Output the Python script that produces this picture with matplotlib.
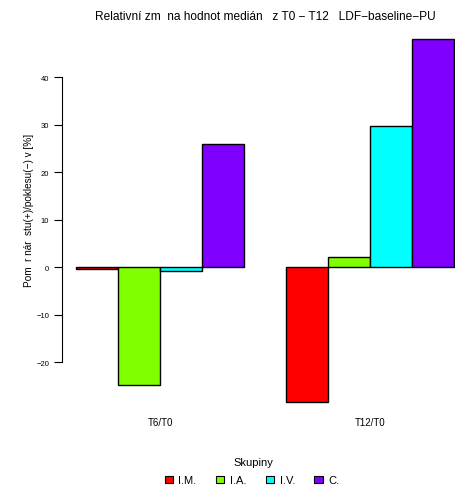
import matplotlib
matplotlib.use("Agg")
import matplotlib.pyplot as plt
from matplotlib.patches import Patch
import numpy as np

# relative change of medians, LDF-baseline-PU
periods = ["T6/T0", "T12/T0"]
groups = ["I.M.", "I.A.", "I.V.", "C."]
colors = ["#FF0000", "#80FF00", "#00FFFF", "#8000FF"]
values = {
    "I.M.": [-0.3, -28.4],
    "I.A.": [-24.7, 2.2],
    "I.V.": [-0.7, 29.8],
    "C.": [26.0, 48.0],
}
yticks = [-20, -10, 0, 10, 20, 30, 40]

W, H = 455, 489
plt.rcParams["font.family"] = ["Liberation Sans", "DejaVu Sans"]
fig = plt.figure(figsize=(W / 100, H / 100), dpi=100)

# axes placed in pixel coords (R barplot layout)
left, right, top, bottom = 61.7, 455, 25.6, 418
ax = fig.add_axes([left / W, 1 - bottom / H, (right - left) / W, (bottom - top) / H])

# R style positions: one bar = 1 unit, one unit of space before each group
for gi, period in enumerate(periods):
    start = 1 + gi * 5
    for k, g in enumerate(groups):
        ax.bar(start + k, values[g][gi], width=1, align="edge",
               color=colors[k], edgecolor="black", linewidth=1.0)

ax.set_xlim(1 - (76 - left) / 42, 1 + (455 - 76) / 42)
ax.set_ylim(-31.5, 51.1)

ax.set_yticks(yticks)
ax.set_yticklabels([str(t) if t >= 0 else "\u2212" + str(-t) for t in yticks], fontsize=5.5)
ax.tick_params(axis="y", length=6, width=0.8, pad=3, colors="black")
ax.spines["left"].set_bounds(-20, 40)
ax.spines["left"].set_linewidth(0.8)
for s in ["top", "right", "bottom"]:
    ax.spines[s].set_visible(False)

ax.set_xticks([3, 8])
ax.set_xticklabels(periods, fontsize=7)
ax.tick_params(axis="x", length=0, pad=0)

fig.text(265 / W, 1 - 17 / H,
         "Relativní zm  na hodnot medián   z T0 \u2212 T12   LDF\u2212baseline\u2212PU",
         ha="center", va="center", fontsize=8.6)
fig.text(29 / W, 1 - 210 / H, "Pom  r nár  stu(+)/poklesu(\u2212) v [%]",
         rotation=90, ha="center", va="center", fontsize=7.2)

fig.text(253 / W, 1 - 463 / H, "Skupiny", ha="center", va="center", fontsize=8)
handles = [Patch(facecolor=c, edgecolor="black", linewidth=0.8) for c in colors]
leg = fig.legend(handles, groups, ncol=4, loc="center",
                 bbox_to_anchor=(252 / W, 1 - 481.5 / H), frameon=False,
                 fontsize=8, handlelength=0.75, handleheight=0.55,
                 handletextpad=0.5, columnspacing=1.75, borderaxespad=0,
                 borderpad=0)

fig.savefig("out.png", dpi=100)
